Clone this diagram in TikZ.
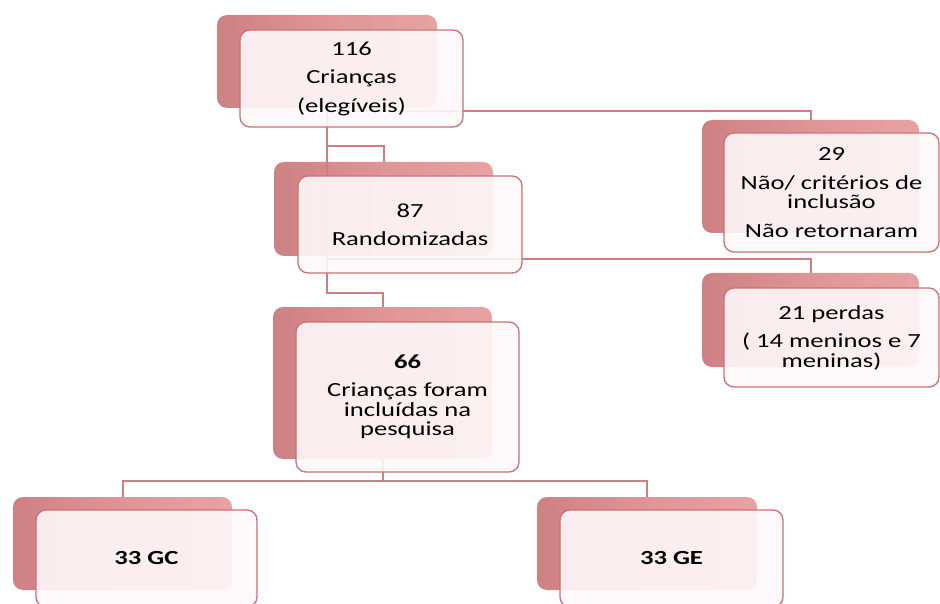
\documentclass[tikz,border=0pt]{standalone}
\usepackage{fontspec}
\setmainfont{Carlito}[FakeStretch=1.33]
\definecolor{conn}{HTML}{CF7F81}
\definecolor{frameC}{HTML}{CB7074}
\definecolor{frontC}{HTML}{FDF8FA}
\definecolor{backL}{HTML}{CD8184}
\definecolor{backM}{HTML}{E09496}
\definecolor{backR}{HTML}{E8A2A3}
\tikzset{
  backbox/.style={rectangle, rounded corners=10pt, draw=none,
    left color=backL, right color=backR, middle color=backM,
    inner sep=0pt},
  frontbox/.style={rectangle, rounded corners=10pt, draw=frameC, line width=1.3pt,
    fill=frontC, fill opacity=0.9, text opacity=1, inner sep=0pt,
    align=center, font=\fontsize{20}{19.5}\selectfont},
  link/.style={draw=conn, line width=2pt},
}
\begin{document}
\begin{tikzpicture}[x=1pt,y=-1pt]
\useasboundingbox (0,0) rectangle (940,604);
\fill[white] (0,0) rectangle (940,604);
% back (shadow) boxes
\node[backbox, minimum width=220pt, minimum height=93pt] (b116) at (327,61.5) {};
\node[backbox, minimum width=219pt, minimum height=94pt] (b87) at (383.5,209) {};
\node[backbox, minimum width=219pt, minimum height=152pt] (b66) at (382.5,383) {};
\node[backbox, minimum width=217pt, minimum height=113pt] (b29) at (810.5,176.5) {};
\node[backbox, minimum width=217pt, minimum height=94pt] (b21) at (810.5,320) {};
\node[backbox, minimum width=219pt, minimum height=93pt] (bGC) at (122.5,543.5) {};
\node[backbox, minimum width=220pt, minimum height=93pt] (bGE) at (647,543.5) {};
% connectors
\path[link] (b116.south) -- (b116.south |- 0,293) -| (b66.north);
\path[link] (b116.south |- 0,146) -| (b87.north);
\path[link] (b116.south |- 0,111) -| (b29.north);
\path[link] (b116.south |- 0,259) -| (b21.north);
\path[link] (b66.south) -- (b66.south |- 0,481);
\path[link] (bGC.north) |- (b66.south |- 0,481) -| (bGE.north);
% front boxes
\node[frontbox, minimum width=223pt, minimum height=97pt] (f116) at (351.5,78.5)
  {116\\[9pt] Crianças\\[9pt](elegíveis)};
\node[frontbox, minimum width=224pt, minimum height=97pt] (f87) at (410,224.5)
  {87\\[9pt] Randomizadas};
\node[frontbox, minimum width=223pt, minimum height=150pt] (f66) at (407.5,397)
  {\textbf{66}\\[9pt]Crianças foram\\incluídas na\\pesquisa};
\node[frontbox, minimum width=215pt, minimum height=119pt] (f29) at (831.5,192.5)
  {29\\[9pt]Não/ critérios de\\inclusão\\[9pt]Não retornaram};
\node[frontbox, minimum width=215pt, minimum height=99pt] (f21) at (831.5,337.5)
  {21 perdas\\[9pt]( 14 meninos e 7\\meninas)};
\node[frontbox, minimum width=221pt, minimum height=97pt] (fGC) at (146.5,558.5)
  {\textbf{33 GC}};
\node[frontbox, minimum width=223pt, minimum height=97pt] (fGE) at (671.5,558.5)
  {\textbf{33 GE}};
\end{tikzpicture}
\end{document}
